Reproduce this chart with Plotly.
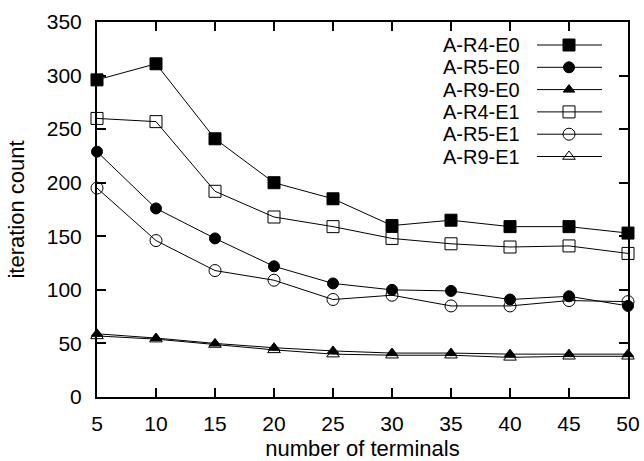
import plotly.graph_objects as go

terminals = [5, 10, 15, 20, 25, 30, 35, 40, 45, 50]
a_r4_e0 = [296, 311, 241, 200, 185, 160, 165, 159, 159, 153]
a_r5_e0 = [229, 176, 148, 122, 106, 100, 99, 91, 94, 85]
a_r9_e0 = [59, 55, 50, 46, 43, 41, 41, 40, 40, 40]
a_r4_e1 = [260, 257, 192, 168, 159, 148, 143, 140, 141, 134]
a_r5_e1 = [195, 146, 118, 109, 91, 95, 85, 85, 90, 89]
a_r9_e1 = [57, 54, 49, 44, 40, 39, 39, 37, 38, 38]

series_names = ["A-R4-E0", "A-R5-E0", "A-R9-E0", "A-R4-E1", "A-R5-E1", "A-R9-E1"]
series_values = [a_r4_e0, a_r5_e0, a_r9_e0, a_r4_e1, a_r5_e1, a_r9_e1]
symbols = ["square", "circle", "triangle-up", "square-open", "circle-open", "triangle-up-open"]
sizes = [12, 11, 10, 12, 12, 11]

x_ticks = [5, 10, 15, 20, 25, 30, 35, 40, 45, 50]
y_ticks = [0, 50, 100, 150, 200, 250, 300, 350]

FONT = "Liberation Sans, Arial, sans-serif"
FS_TICK = 21
FS_TITLE = 22
FS_KEY = 20
W, H = 644, 461
L, R, T, B = 97, 16, 22, 64

fig = go.Figure()
for name, vals, sym, sz in zip(series_names, series_values, symbols, sizes):
    fig.add_trace(go.Scatter(
        x=terminals, y=vals, mode="lines+markers", name=name,
        line=dict(color="black", width=1),
        marker=dict(symbol=sym, size=sz, color="black", line=dict(color="black", width=1)),
        cliponaxis=False, showlegend=False,
    ))

# gnuplot-style key (text left, sample right) drawn on an overlay axis in plot fractions
plot_w = W - L - R
plot_h = H - T - B
leg_text_right = (522 - L) / plot_w
leg_line_x0 = (537 - L) / plot_w
leg_line_x1 = (602 - L) / plot_w
leg_mark_x = (569 - L) / plot_w
leg_top_px = 45
leg_step_px = 22.3
annotations = []
for i, (name, sym, sz) in enumerate(zip(series_names, symbols, sizes)):
    ypx = leg_top_px + i * leg_step_px
    yf = (H - B - ypx) / plot_h
    fig.add_trace(go.Scatter(
        x=[leg_line_x0, leg_line_x1], y=[yf, yf], mode="lines",
        line=dict(color="black", width=1), xaxis="x2", yaxis="y2",
        showlegend=False, hoverinfo="skip",
    ))
    fig.add_trace(go.Scatter(
        x=[leg_mark_x], y=[yf], mode="markers",
        marker=dict(symbol=sym, size=sz, color="black", line=dict(color="black", width=1)),
        xaxis="x2", yaxis="y2", showlegend=False, hoverinfo="skip",
    ))
    annotations.append(dict(
        x=leg_text_right, y=yf, xref="paper", yref="paper", text=name,
        showarrow=False, xanchor="right", yanchor="middle",
        font=dict(family=FONT, size=FS_KEY, color="black"),
    ))

axis_common = dict(
    showline=True, linecolor="black", linewidth=2, mirror="ticks",
    ticks="inside", ticklen=9, tickwidth=1.5, tickcolor="black",
    showgrid=False, zeroline=False,
    tickfont=dict(family=FONT, size=FS_TICK, color="black"),
)

fig.update_layout(
    width=W, height=H,
    margin=dict(l=L, r=R, t=T, b=B, pad=0, autoexpand=False),
    paper_bgcolor="white", plot_bgcolor="white",
    showlegend=False,
    xaxis=dict(range=[5, 50], tickvals=x_ticks, ticktext=[str(v) for v in x_ticks],
               ticklabelstandoff=7,
               title=dict(text="number of terminals", font=dict(family=FONT, size=FS_TITLE, color="black"), standoff=15),
               **axis_common),
    yaxis=dict(range=[0, 350], tickvals=y_ticks, ticktext=[str(v) for v in y_ticks],
               ticklabelstandoff=9,
               title=dict(text="iteration count", font=dict(family=FONT, size=FS_TITLE, color="black"), standoff=16),
               **axis_common),
    xaxis2=dict(range=[0, 1], overlaying="x", visible=False, fixedrange=True),
    yaxis2=dict(range=[0, 1], overlaying="y", visible=False, fixedrange=True),
    annotations=annotations,
)

# remove the browser's default 8px body margin so the 644x461 figure fills the window exactly
fig.write_html(
    "out.html",
    config={"displayModeBar": False},
    post_script="document.body.style.margin='0';document.body.style.overflow='hidden';",
)
